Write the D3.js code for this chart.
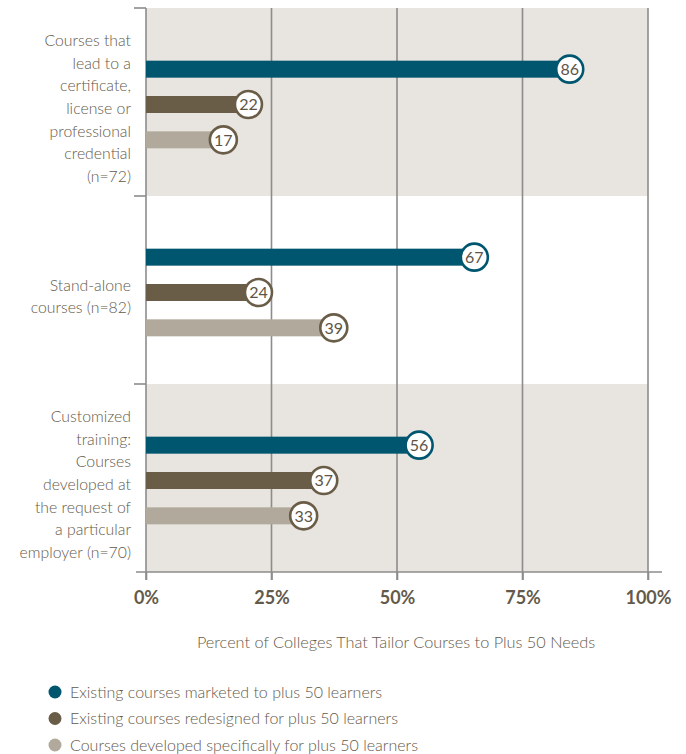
<!DOCTYPE html>
<html>
<head>
<meta charset="utf-8">
<script src="https://cdn.jsdelivr.net/npm/d3@7/dist/d3.min.js"></script>
<style>
  html, body { margin: 0; padding: 0; background: #ffffff; }
  svg { display: block; }
  text { font-family: Lato, "Open Sans", sans-serif; }
</style>
</head>
<body>
<svg id="chart" width="686" height="754"></svg>
<script>
// Course categories (each label broken into display lines)
const categories = [
  ["Courses that", "lead to a", "certificate,", "license or", "professional", "credential", "(n=72)"],
  ["Stand-alone", "courses (n=82)"],
  ["Customized", "training:", "Courses", "developed at", "the request of", "a particular", "employer (n=70)"]
];
const seriesNames = [
  "Existing courses marketed to plus 50 learners",
  "Existing courses redesigned for plus 50 learners",
  "Courses developed specifically for plus 50 learners"
];
const marketed   = [86, 67, 56];
const redesigned = [22, 24, 37];
const developed  = [17, 39, 33];
const tickValues = [0, 25, 50, 75, 100];
const tickLabels = ["0%", "25%", "50%", "75%", "100%"];
const axisTitle = "Percent of Colleges That Tailor Courses to Plus 50 Needs";

const barColors    = ["#00566f", "#6a5d48", "#b1aa9c"];
const ringColors   = ["#00566f", "#6a5d48", "#6a5d48"];
const bandFill = "#e8e4df";
const gridColor = "#8c8c8c";
const textColor = "#645a4b";

const series = [marketed, redesigned, developed];

const svg = d3.select("#chart");

const x = d3.scaleLinear().domain([0, 100]).range([146, 648]);
const y = d3.scaleBand().domain(d3.range(categories.length)).range([8, 572]).padding(0);
const inner = d3.scaleBand().domain(d3.range(series.length)).range([-53, 53]).padding(0);
const barH = 17;

// Alternating background bands
svg.append("g").selectAll("rect")
  .data(d3.range(categories.length).filter(i => i % 2 === 0))
  .join("rect")
  .attr("x", x(0)).attr("y", i => y(i))
  .attr("width", x(100) - x(0)).attr("height", y.bandwidth())
  .attr("fill", bandFill);

// Vertical gridlines
svg.append("g").selectAll("line")
  .data(tickValues.slice(1))
  .join("line")
  .attr("x1", d => x(d)).attr("x2", d => x(d))
  .attr("y1", 8).attr("y2", 580)
  .attr("stroke", gridColor).attr("stroke-width", 1.6);

// Left spine with bracket ticks at band boundaries
svg.append("line")
  .attr("x1", x(0)).attr("x2", x(0)).attr("y1", 8).attr("y2", 580)
  .attr("stroke", gridColor).attr("stroke-width", 1.6);
svg.append("g").selectAll("line")
  .data(d3.range(categories.length))
  .join("line")
  .attr("x1", 134).attr("x2", x(0))
  .attr("y1", i => y(i)).attr("y2", i => y(i))
  .attr("stroke", gridColor).attr("stroke-width", 1.6);

// Bottom axis
const xAxis = d3.axisBottom(x).tickValues(tickValues)
  .tickFormat((d, i) => tickLabels[i]).tickSize(8).tickPadding(11);
const axisG = svg.append("g").attr("transform", "translate(0,572)").call(xAxis);
axisG.select(".domain").remove();
axisG.append("line").attr("x1", 136).attr("x2", 662).attr("y1", 0).attr("y2", 0)
  .attr("stroke", gridColor).attr("stroke-width", 1.6);
axisG.selectAll(".tick line").attr("stroke", gridColor).attr("stroke-width", 1.6);
axisG.selectAll(".tick text")
  .attr("fill", textColor).attr("font-size", 18).attr("font-weight", 700)
  .style("font-family", "Lato, 'Open Sans', sans-serif");

// Category labels
const lineH = 22.6;
svg.append("g").selectAll("text")
  .data(categories)
  .join("text")
  .attr("text-anchor", "end")
  .attr("fill", textColor)
  .attr("font-size", 15.8)
  .attr("font-weight", 300)
  .each(function(lines, i) {
    const cy = y(i) + y.bandwidth() / 2;
    const top = cy - (lines.length - 1) * lineH / 2 + 12;
    d3.select(this).selectAll("tspan").data(lines).join("tspan")
      .attr("x", 131).attr("y", (d, k) => top + k * lineH).text(d => d);
  });

// Bars with value bubbles
const cells = [];
series.forEach((vals, s) => vals.forEach((v, c) => cells.push({ s, c, v })));

const cy = d => y(d.c) + y.bandwidth() / 2 + inner(d.s) + inner.bandwidth() / 2 + 2.5;

svg.append("g").selectAll("rect")
  .data(cells)
  .join("rect")
  .attr("x", x(0)).attr("y", d => cy(d) - barH / 2)
  .attr("width", d => x(d.v) - x(0)).attr("height", barH)
  .attr("fill", d => barColors[d.s]);

const bubbles = svg.append("g").selectAll("g")
  .data(cells)
  .join("g")
  .attr("transform", d => `translate(${x(d.v) - 8},${cy(d)})`);
bubbles.append("circle")
  .attr("r", 13.5)
  .attr("fill", "#ffffff")
  .attr("stroke", d => ringColors[d.s])
  .attr("stroke-width", 2.6);
bubbles.append("text")
  .attr("text-anchor", "middle").attr("dy", "0.36em")
  .attr("font-size", 16).attr("font-weight", 400).attr("fill", "#5e5446")
  .text(d => d.v);

// Axis title
svg.append("text")
  .attr("x", 396).attr("y", 648)
  .attr("text-anchor", "middle")
  .attr("font-size", 16.3).attr("font-weight", 300).attr("fill", textColor)
  .text(axisTitle);

// Legend
const legend = svg.append("g").selectAll("g")
  .data(seriesNames)
  .join("g")
  .attr("transform", (d, i) => `translate(55,${692 + i * 26.5})`);
legend.append("circle").attr("r", 6.5).attr("fill", (d, i) => barColors[i]);
legend.append("text").attr("x", 15).attr("dy", "0.35em")
  .attr("font-size", 16).attr("font-weight", 300).attr("fill", textColor).text(d => d);
</script>
</body>
</html>
